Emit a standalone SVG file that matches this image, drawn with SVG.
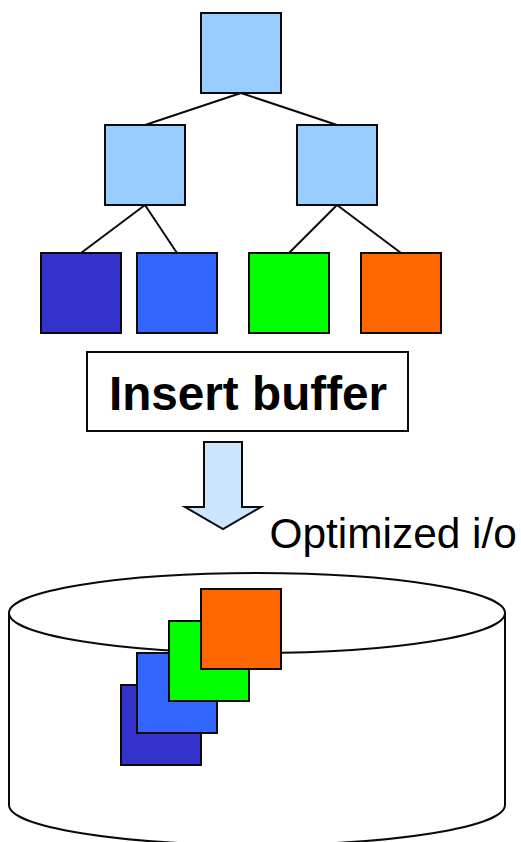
<svg xmlns="http://www.w3.org/2000/svg" width="521" height="842" viewBox="0 0 521 842">
<style>
.s{stroke:#0a0a0a;stroke-width:2}
.q{stroke:#0a0a0a;stroke-width:2;width:80px;height:80px}
.l{fill:#99ccff}.d{fill:#3333cc}.b{fill:#3366ff}.g{fill:#00ff00}.o{fill:#ff6600}
.t{font-family:"Liberation Sans",Arial,sans-serif;fill:#000}
</style>
<rect width="521" height="842" fill="#fff"/>
<g id="connectors" class="s" fill="none">
<path d="M241 93L145 125M241 93L337 125M145 205L81 253M145 205L177 253M337 205L289 253M337 205L401 253"/>
</g>
<g id="root"><rect class="q l" x="201" y="13"/></g>
<g id="mid-left"><rect class="q l" x="105" y="125"/></g>
<g id="mid-right"><rect class="q l" x="297" y="125"/></g>
<g id="leaf-1"><rect class="q d" x="41" y="253"/></g>
<g id="leaf-2"><rect class="q b" x="137" y="253"/></g>
<g id="leaf-3"><rect class="q g" x="249" y="253"/></g>
<g id="leaf-4"><rect class="q o" x="361" y="253"/></g>
<g id="insert-buffer">
<rect class="s" x="87" y="352" width="321" height="79" fill="#fff"/>
<text class="t" x="248" y="410" font-size="47.700" font-weight="700" text-anchor="middle">Insert buffer</text>
</g>
<g id="arrow"><path class="s" fill="#cce5ff" d="M204 442H242V507H261L223 529L185 507H204Z"/></g>
<g id="label"><text class="t" x="269.500" y="548" font-size="42.400">Optimized i/o</text></g>
<g id="disk">
<path class="s" fill="#fff" d="M9 613V805A248 40 0 0 0 505 805V613"/>
<ellipse class="s" fill="#fff" cx="257" cy="613" rx="248" ry="40"/>
</g>
<g id="stack-1"><rect class="q d" x="121" y="685"/></g>
<g id="stack-2"><rect class="q b" x="137" y="653"/></g>
<g id="stack-3"><rect class="q g" x="169" y="621"/></g>
<g id="stack-4"><rect class="q o" x="201" y="589"/></g>
</svg>
